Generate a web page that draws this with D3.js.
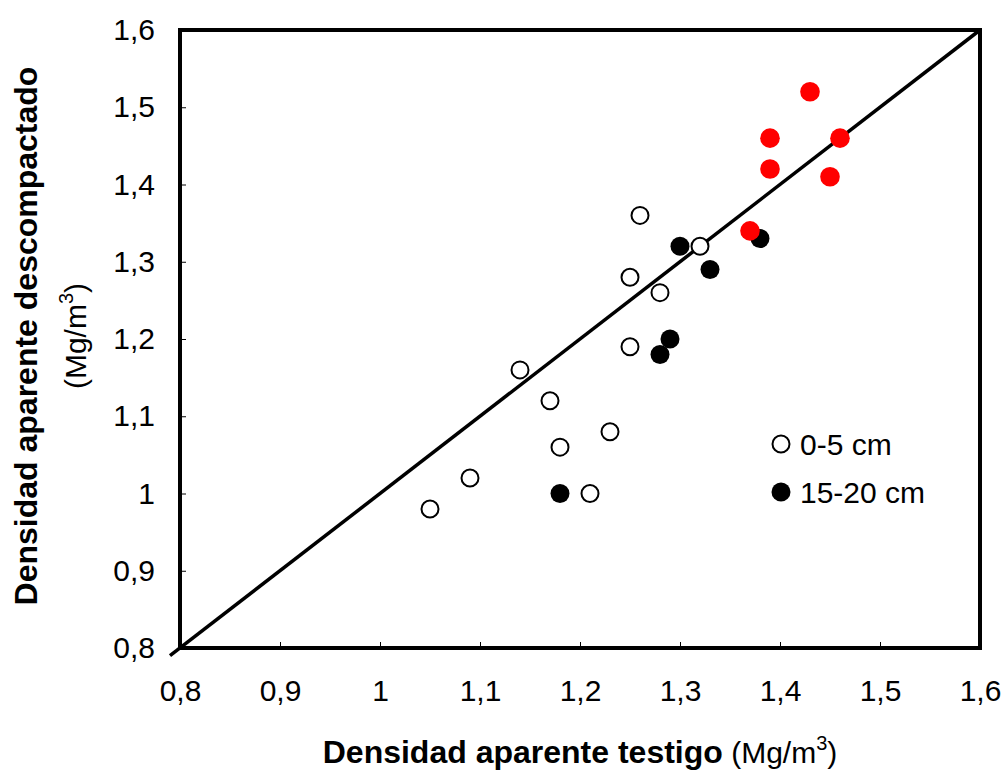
<!DOCTYPE html>
<html><head><meta charset="utf-8">
<script src="https://cdn.jsdelivr.net/npm/d3@7"></script>
<style>body{margin:0;background:#fff}text{font-family:"Liberation Sans",Arial,sans-serif}</style>
</head><body>
<svg id="c" width="1007" height="771"></svg>
<script>
const xTicks = [0.8,0.9,1.0,1.1,1.2,1.3,1.4,1.5,1.6];
const yTicks = [0.8,0.9,1.0,1.1,1.2,1.3,1.4,1.5,1.6];
const openX = [1.05,1.09,1.14,1.17,1.18,1.21,1.23,1.25,1.25,1.26,1.28,1.32];
const openY = [0.98,1.02,1.16,1.12,1.06,1.00,1.08,1.28,1.19,1.36,1.26,1.32];
const blackX = [1.18,1.28,1.29,1.30,1.33,1.38];
const blackY = [1.00,1.18,1.20,1.32,1.29,1.33];
const redX = [1.37,1.39,1.39,1.43,1.46,1.45];
const redY = [1.34,1.46,1.42,1.52,1.46,1.41];
const legendLabels = ["0-5 cm","15-20 cm"];
const fmt = v => (Math.abs(v-1)<1e-9 ? "1" : d3.format(".1f")(v).replace(".", ","));

const svg = d3.select("#c");
const L=180,R=980,T=30,B=648;
const x = d3.scaleLinear().domain([0.8,1.6]).range([L,R]);
const y = d3.scaleLinear().domain([0.8,1.6]).range([B,T]);
const FS = 30;

const xa = svg.append("g").attr("transform",`translate(0,${B})`)
  .call(d3.axisBottom(x).tickValues(xTicks).tickSizeInner(-6).tickSizeOuter(0).tickPadding(32).tickFormat(fmt));
xa.select(".domain").remove();
xa.selectAll("line").attr("stroke","#000").attr("stroke-width",1);
xa.selectAll("text").attr("font-size",FS).attr("fill","#000").attr("dy","0.71em");
const ya = svg.append("g").attr("transform",`translate(${L},0)`)
  .call(d3.axisLeft(y).tickValues(yTicks).tickSizeInner(-6).tickSizeOuter(0).tickPadding(25).tickFormat(fmt));
ya.select(".domain").remove();
ya.selectAll("line").attr("stroke","#000").attr("stroke-width",1);
ya.selectAll("text").attr("font-size",FS).attr("fill","#000");

svg.append("rect").attr("x",L).attr("y",T).attr("width",R-L).attr("height",B-T)
  .attr("fill","none").attr("stroke","#000").attr("stroke-width",4);

svg.append("line").attr("x1",x(0.79)).attr("y1",y(0.79)).attr("x2",x(1.6)).attr("y2",y(1.6))
  .attr("stroke","#000").attr("stroke-width",3.5);

svg.append("g").selectAll("circle").data(blackX).join("circle")
  .attr("cx",d=>x(d)).attr("cy",(d,i)=>y(blackY[i])).attr("r",9.5).attr("fill","#000");
svg.append("g").selectAll("circle").data(openX).join("circle")
  .attr("cx",d=>x(d)).attr("cy",(d,i)=>y(openY[i])).attr("r",8.5)
  .attr("fill","#fff").attr("stroke","#000").attr("stroke-width",2);
svg.append("g").selectAll("circle").data(redX).join("circle")
  .attr("cx",d=>x(d)).attr("cy",(d,i)=>y(redY[i])).attr("r",9.8).attr("fill","#ff0000");

const lg = svg.append("g");
lg.append("circle").attr("cx",781).attr("cy",444).attr("r",8.5).attr("fill","#fff").attr("stroke","#000").attr("stroke-width",2);
lg.append("circle").attr("cx",781).attr("cy",492).attr("r",9.5).attr("fill","#000");
lg.append("text").attr("x",800).attr("y",455).attr("font-size",FS).text(legendLabels[0]);
lg.append("text").attr("x",800).attr("y",503).attr("font-size",FS).text(legendLabels[1]);

const xt = svg.append("text").attr("x",580).attr("y",763).attr("text-anchor","middle").attr("font-size",30);
xt.append("tspan").attr("font-weight","bold").attr("font-size",32).text("Densidad aparente testigo");
xt.append("tspan").text(" (Mg/m");
xt.append("tspan").attr("font-size",20).attr("dy",-13).text("3");
xt.append("tspan").attr("dy",13).text(")");

const yt = svg.append("g").attr("transform","translate(0,336) rotate(-90)");
yt.append("text").attr("x",0).attr("y",37).attr("text-anchor","middle").attr("font-size",32).attr("font-weight","bold").text("Densidad aparente descompactado");
const y2 = yt.append("text").attr("x",0).attr("y",86).attr("text-anchor","middle").attr("font-size",30);
y2.append("tspan").text("(Mg/m");
y2.append("tspan").attr("font-size",20).attr("dy",-13).text("3");
y2.append("tspan").attr("dy",13).text(")");
</script>
</body></html>
